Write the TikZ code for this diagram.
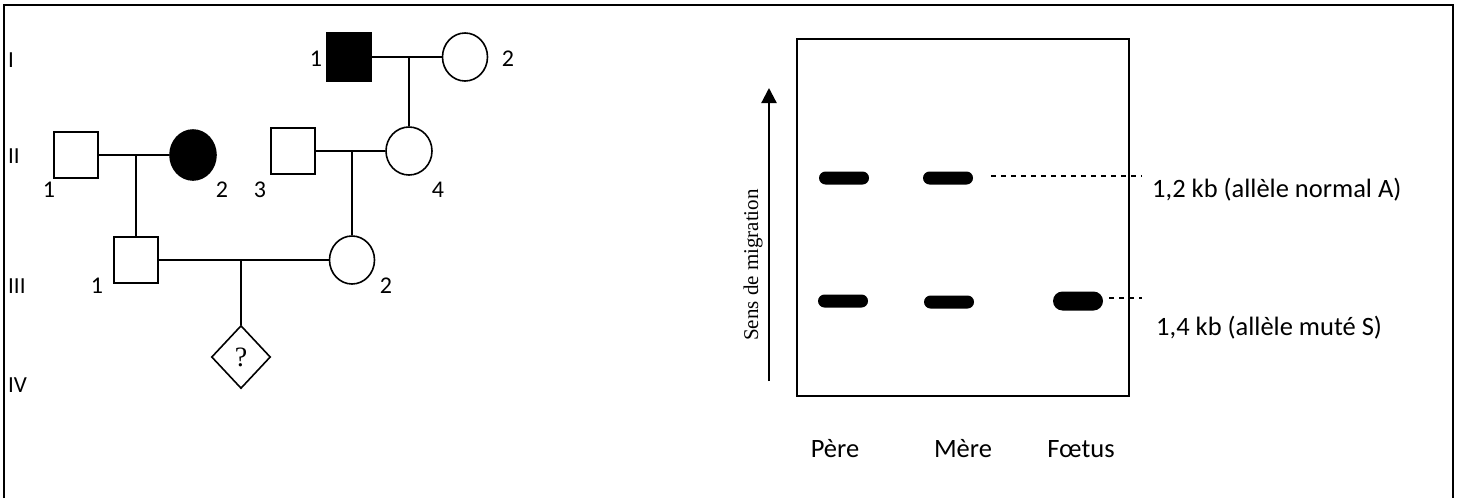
\documentclass[tikz,border=0pt]{standalone}
\usepackage{fontspec}
\setmainfont{Carlito}
\newfontfamily\serifrm{Liberation Serif}
\usetikzlibrary{shapes.geometric,arrows.meta}
\tikzset{
  ped/.style={line width=1.6pt},
  male/.style={draw,rectangle,line width=1.6pt,minimum width=44pt,minimum height=46pt,inner sep=0pt},
  female/.style={draw,ellipse,line width=1.6pt,minimum width=45pt,minimum height=48pt,inner sep=0pt},
  affected/.style={fill=black},
  unknown/.style={draw,diamond,line width=1.6pt,minimum width=59pt,minimum height=63pt,inner sep=0pt,font=\serifrm\fontsize{28}{32}\selectfont},
  numlab/.style={inner sep=0pt,anchor=base,font=\fontsize{24}{28}\selectfont},
  genlab/.style={inner sep=0pt,anchor=base west,font=\fontsize{23}{27}\selectfont},
  band/.style={fill=black,rectangle,rounded corners=6.5pt,minimum width=50pt,minimum height=13pt,inner sep=0pt},
  gellab/.style={inner sep=0pt,anchor=base,font=\fontsize{26.5}{30}\selectfont},
  dashln/.style={line width=1.4pt,dash pattern=on 5pt off 5pt},
}
\begin{document}
\begin{tikzpicture}[x=1pt,y=-1pt]
\useasboundingbox (0,0) rectangle (1461,498);
% outer frame (no bottom edge)
\coordinate (fa) at (4,498);
\coordinate (fb) at (4,5);
\coordinate (fc) at (1453,5);
\coordinate (fd) at (1453,498);
\draw[line width=2.6pt] (fa) -- (fb) -- (fc) -- (fd);

% generation labels
\node[genlab] (gI) at (8,67) {I};
\node[genlab] (gII) at (8,163) {II};
\node[genlab] (gIII) at (8,293) {III};
\node[genlab] (gIV) at (8,392) {IV};

% generation I
\node[male,affected,minimum height=48pt] (I1) at (349,57) {};
\node[female] (I2) at (465,57) {};
% generation II
\node[male] (II1) at (76,155) {};
\node[female,affected,minimum width=46pt,minimum height=50pt] (II2) at (193,155) {};
\node[male] (II3) at (293,151) {};
\node[female,minimum width=46pt] (II4) at (409,151) {};
% generation III
\node[male] (III1) at (136,260) {};
\node[female] (III2) at (352,260) {};
% generation IV
\node[unknown] (IV1) at (241,357) {?};

% numbers
\node[numlab] (nI1) at (316,66) {1};
\node[numlab] (nI2) at (508,66) {2};
\node[numlab] (nII1) at (49,197) {1};
\node[numlab] (nII2) at (222,197) {2};
\node[numlab] (nII3) at (260,197) {3};
\node[numlab] (nII4) at (438,197) {4};
\node[numlab] (nIII1) at (97,293) {1};
\node[numlab] (nIII2) at (386,293) {2};

% connectors
\draw[ped] (I1) -- (I2);
\draw[ped] (II4.north) -- (II4.north |- I1.east);
\draw[ped] (II1) -- (II2);
\draw[ped] (III1.north) -- (III1.north |- II1.east);
\draw[ped] (II3) -- (II4);
\draw[ped] (III2.north) -- (III2.north |- II3.east);
\draw[ped] (III1) -- (III2);
\draw[ped] (IV1.north) -- (IV1.north |- III1.east);

% gel
\node[draw,rectangle,line width=1.6pt,minimum width=332pt,minimum height=357pt,inner sep=0pt] (gel) at (963,217.5) {};
\coordinate (arS) at (769,381);
\coordinate (arE) at (769,88);
\draw[line width=2.2pt,-{Triangle[length=15pt,width=15pt]}] (arS) -- (arE);
\node[inner sep=0pt,rotate=90,font=\serifrm\fontsize{21}{25}\selectfont] (sens) at (753,265) {Sens de migration};

\node[band] (p1) at (844,178) {};
\node[band] (m1) at (948,178) {};
\node[band] (p2) at (843,301) {};
\node[band] (m2) at (949,302) {};
\node[band,minimum height=19pt,rounded corners=9.5pt] (f2) at (1078,301) {};

\coordinate (d1a) at (991,176);
\coordinate (d1b) at (1142,176);
\coordinate (d2a) at (1109,298);
\coordinate (d2b) at (1142,298);
\draw[dashln] (d1a) -- (d1b);
\draw[dashln] (d2a) -- (d2b);

\node[gellab,anchor=base west] (labA) at (1152,197) {1,2 kb (allèle normal A)};
\node[gellab,anchor=base west] (labS) at (1156,335) {1,4 kb (allèle muté S)};

\node[gellab] (pere) at (835,457) {Père};
\node[gellab] (mere) at (963,457) {Mère};
\node[gellab] (foetus) at (1081,457) {Fœtus};
\end{tikzpicture}
\end{document}
